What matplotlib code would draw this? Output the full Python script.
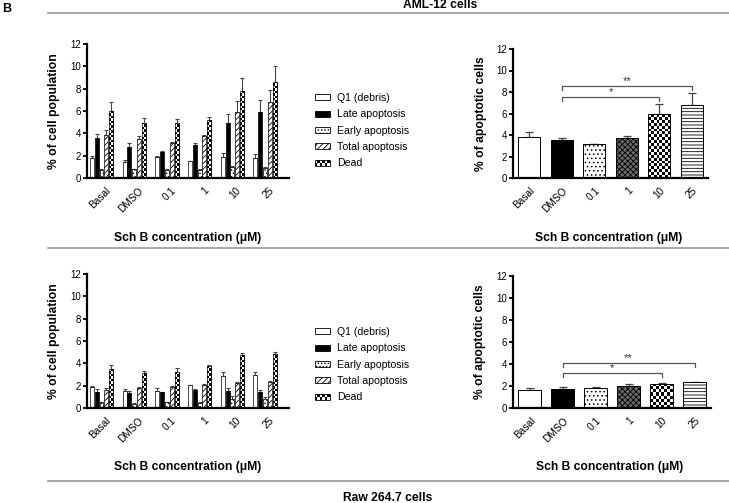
import numpy as np
import matplotlib
matplotlib.use("Agg")
import matplotlib.pyplot as plt
import matplotlib.transforms as mtransforms
from matplotlib.patches import Patch, Rectangle
from matplotlib.lines import Line2D
from matplotlib.legend_handler import HandlerBase

plt.rcParams['font.family'] = ['Liberation Sans', 'DejaVu Sans']
plt.rcParams['hatch.linewidth'] = 0.6

categories = ['Basal', 'DMSO', '0.1', '1', '10', '25']
series = ['Q1 (debris)', 'Late apoptosis', 'Early apoptosis', 'Total apoptosis', 'Dead']

# AML-12 cells: cell population (%) per series across categories, with SEM
aml_q1 = [1.75, 1.45, 1.92, 1.50, 1.90, 1.80]
aml_q1_err = [0.22, 0.14, 0.08, 0.06, 0.30, 0.35]
aml_late = [3.55, 2.75, 2.33, 2.96, 4.97, 5.90]
aml_late_err = [0.43, 0.40, 0.10, 0.18, 0.80, 1.10]
aml_early = [0.69, 0.78, 0.75, 0.75, 0.99, 0.90]
aml_early_err = [0.08, 0.05, 0.09, 0.05, 0.09, 0.07]
aml_total = [3.86, 3.50, 3.14, 3.77, 5.93, 6.82]
aml_total_err = [0.45, 0.22, 0.04, 0.12, 1.00, 1.10]
aml_dead = [5.99, 4.97, 4.97, 5.18, 7.78, 8.62]
aml_dead_err = [0.78, 0.36, 0.27, 0.27, 1.20, 1.38]

# AML-12 cells: % apoptotic cells
aml_apop = [3.85, 3.50, 3.12, 3.75, 5.92, 6.82]
aml_apop_err = [0.45, 0.25, 0.05, 0.15, 1.00, 1.10]

# Raw 264.7 cells
raw_q1 = [1.91, 1.55, 1.55, 2.03, 2.88, 2.95]
raw_q1_err = [0.06, 0.15, 0.24, 0.06, 0.32, 0.30]
raw_late = [1.40, 1.37, 1.40, 1.58, 1.52, 1.45]
raw_late_err = [0.30, 0.12, 0.06, 0.12, 0.25, 0.15]
raw_early = [0.50, 0.40, 0.50, 0.45, 0.85, 0.85]
raw_early_err = [0.05, 0.03, 0.04, 0.05, 0.25, 0.10]
raw_total = [1.61, 1.79, 1.91, 2.06, 2.24, 2.35]
raw_total_err = [0.18, 0.12, 0.06, 0.12, 0.08, 0.05]
raw_dead = [3.49, 3.10, 3.19, 3.75, 4.73, 4.85]
raw_dead_err = [0.36, 0.24, 0.39, 0.10, 0.24, 0.15]

raw_apop = [1.60, 1.75, 1.85, 2.00, 2.20, 2.32]
raw_apop_err = [0.18, 0.15, 0.07, 0.15, 0.05, 0.06]

# significance brackets: (from index, to index, label)
aml_sig = [(1, 4, '*'), (1, 5, '**')]
aml_sig_y = [7.5, 8.55]
raw_sig = [(1, 4, '*'), (1, 5, '**')]
raw_sig_y = [3.15, 4.1]

W, H = 729, 503
fig = plt.figure(figsize=(W / 100, H / 100), dpi=100)


def px_axes(l, r, t, b):
    return fig.add_axes([l / W, 1 - b / H, (r - l) / W, (b - t) / H])


def style_axes(ax, ylabel, xlim, shift_px):
    ax.set_ylim(0, 12)
    ax.set_xlim(*xlim)
    ax.set_yticks(np.arange(0, 13, 2))
    ax.spines['top'].set_visible(False)
    ax.spines['right'].set_visible(False)
    ax.spines['left'].set_linewidth(1.6)
    ax.spines['bottom'].set_linewidth(1.6)
    ax.tick_params(axis='y', length=3, width=1.3, labelsize=7, pad=1.5)
    ax.tick_params(axis='x', length=0, labelsize=7.3, pad=8)
    ax.set_xticks(np.arange(len(categories)))
    ax.set_xticklabels(categories, rotation=45, ha='right', va='center',
                       rotation_mode='anchor')
    off = mtransforms.ScaledTranslation(shift_px / 100, 0, fig.dpi_scale_trans)
    for lab in ax.get_xticklabels():
        lab.set_transform(lab.get_transform() + off)
    ax.set_ylabel(ylabel, fontsize=8.7, fontweight='bold')
    ax.set_xlabel('Sch B concentration (μM)', fontsize=8.7, fontweight='bold')


def checker(ax, bar, cell_px):
    x0, y0 = bar.get_x(), bar.get_y()
    w, h = bar.get_width(), bar.get_height()
    p0 = ax.transData.transform((x0, y0))
    p1 = ax.transData.transform((x0 + w, y0 + h))
    nx = max(2, int(round((p1[0] - p0[0]) / cell_px)))
    ny = max(1, int(round((p1[1] - p0[1]) / cell_px)))
    arr = np.add.outer(np.arange(ny), np.arange(nx)) % 2
    im = ax.imshow(arr, cmap='gray', vmin=0, vmax=1, extent=(x0, x0 + w, y0, y0 + h),
                   origin='lower', interpolation='nearest', aspect='auto', zorder=2.5)
    im.set_clip_path(bar)


class CheckerHandler(HandlerBase):
    def create_artists(self, legend, orig_handle, xdescent, ydescent, width, height,
                       fontsize, trans):
        arts = [Rectangle((-xdescent, -ydescent), width, height, fc='white', ec='black',
                          lw=0.6, transform=trans)]
        nx, ny = 6, 2
        cw, ch = width / nx, height / ny
        for i in range(ny):
            for j in range(nx):
                if (i + j) % 2 == 0:
                    arts.append(Rectangle((-xdescent + j * cw, -ydescent + i * ch), cw, ch,
                                          fc='black', ec='none', transform=trans))
        return arts


series_style = [
    dict(fc='white', hatch=None),
    dict(fc='black', hatch=None),
    dict(fc='white', hatch='.....'),
    dict(fc='white', hatch='//////'),
    dict(fc='white', hatch='checker'),
]

cat_style = [
    dict(fc='white', hatch=None),
    dict(fc='black', hatch=None),
    dict(fc='white', hatch='....'),
    dict(fc='#6a6a6a', hatch='xxxxxx'),
    dict(fc='white', hatch='checker'),
    dict(fc='white', hatch='-----'),
]


def grouped_panel(ax, vals, errs, xlim):
    x = np.arange(len(categories))
    step, width = 0.147, 0.122
    ax.set_xlim(*xlim)
    ax.set_ylim(0, 12)
    for k, (v, e) in enumerate(zip(vals, errs)):
        st = series_style[k]
        pos = x + (k - 2) * step
        hatch = None if st['hatch'] in (None, 'checker') else st['hatch']
        bars = ax.bar(pos, v, width, color=st['fc'], edgecolor='black', linewidth=0.5,
                      hatch=hatch, zorder=2)
        ax.errorbar(pos, v, yerr=[np.zeros(len(v)), e], fmt='none', ecolor='#444444',
                    elinewidth=0.8, capsize=1.3, capthick=0.8, zorder=1.5)
        if st['hatch'] == 'checker':
            for b in bars:
                checker(ax, b, 2.4)
            ax.bar(pos, v, width, fill=False, edgecolor='black', linewidth=0.5, zorder=3)


def single_panel(ax, vals, errs, sig, sig_y, xlim):
    x = np.arange(len(categories))
    ax.set_xlim(*xlim)
    ax.set_ylim(0, 12)
    ax.errorbar(x, vals, yerr=[np.zeros(len(vals)), errs], fmt='none', ecolor='#444444',
                elinewidth=0.9, capsize=3, capthick=0.9, zorder=1.5)
    for i in range(len(categories)):
        st = cat_style[i]
        hatch = None if st['hatch'] in (None, 'checker') else st['hatch']
        bars = ax.bar(x[i], vals[i], 0.68, color=st['fc'], edgecolor='black', linewidth=0.7,
                      hatch=hatch, zorder=2)
        if st['hatch'] == 'checker':
            checker(ax, bars[0], 2.9)
            ax.bar(x[i], vals[i], 0.68, fill=False, edgecolor='black', linewidth=0.7, zorder=3)
    for (a, b, lab), yy in zip(sig, sig_y):
        ax.plot([x[a], x[a], x[b], x[b]], [yy - 0.35, yy, yy, yy - 0.35], color='#555555',
                lw=0.9, zorder=4)
        ax.text((x[a] + x[b]) / 2, yy + 0.02, lab, ha='center', va='bottom', fontsize=8,
                color='#333333')


legend_handles = []
for st in series_style:
    if st['hatch'] == 'checker':
        legend_handles.append(Patch(facecolor='white', edgecolor='black', label='checker'))
    else:
        legend_handles.append(Patch(facecolor=st['fc'], edgecolor='black', linewidth=0.6,
                                    hatch=st['hatch']))


def add_legend(ax, top_px):
    leg = ax.legend(legend_handles, series, loc='upper left',
                    bbox_to_anchor=(315 / W, 1 - top_px / H), bbox_transform=fig.transFigure,
                    frameon=False, fontsize=7.6, handlelength=1.42, handleheight=0.5,
                    labelspacing=0.6, handletextpad=0.65, borderpad=0, borderaxespad=0,
                    handler_map={legend_handles[4]: CheckerHandler()})
    return leg


# Top row: AML-12
ax1 = px_axes(87, 289, 44, 178)
grouped_panel(ax1, [aml_q1, aml_late, aml_early, aml_total, aml_dead],
              [aml_q1_err, aml_late_err, aml_early_err, aml_total_err, aml_dead_err],
              (-0.443, 5.73))
style_axes(ax1, '% of cell population', (-0.443, 5.73), 7)
ax1.xaxis.set_label_coords(0.5, -0.40)
ax1.yaxis.set_label_coords(-0.135, 0.5)
add_legend(ax1, 93)

ax2 = px_axes(513, 708, 49, 178)
single_panel(ax2, aml_apop, aml_apop_err, aml_sig, aml_sig_y, (-0.5, 5.5))
style_axes(ax2, '% of apoptotic cells', (-0.5, 5.5), 4)
ax2.xaxis.set_label_coords(0.49, -0.418)
ax2.yaxis.set_label_coords(-0.135, 0.5)

# Bottom row: Raw 264.7
ax3 = px_axes(87, 289, 274, 408)
grouped_panel(ax3, [raw_q1, raw_late, raw_early, raw_total, raw_dead],
              [raw_q1_err, raw_late_err, raw_early_err, raw_total_err, raw_dead_err],
              (-0.443, 5.73))
style_axes(ax3, '% of cell population', (-0.443, 5.73), 7)
ax3.xaxis.set_label_coords(0.5, -0.396)
ax3.yaxis.set_label_coords(-0.135, 0.5)
add_legend(ax3, 327)

ax4 = px_axes(513, 711, 276, 408)
single_panel(ax4, raw_apop, raw_apop_err, raw_sig, raw_sig_y, (-0.5, 5.5))
style_axes(ax4, '% of apoptotic cells', (-0.5, 5.5), 4)
ax4.xaxis.set_label_coords(0.49, -0.40)
ax4.yaxis.set_label_coords(-0.135, 0.5)

# Section rules and titles
for ypx in (13, 248, 481):
    fig.add_artist(Line2D([48 / W, 1.0], [1 - ypx / H] * 2, transform=fig.transFigure,
                          color='#9a9a9a', lw=1.2))
fig.text(7 / W, 1 - 8.5 / H, 'B', fontsize=9, fontweight='bold', ha='center', va='center')
fig.text(440 / W, 1 - 4.5 / H, 'AML-12 cells', fontsize=8.7, fontweight='bold',
         ha='center', va='center')
fig.text(388 / W, 1 - 498 / H, 'Raw 264.7 cells', fontsize=8.7, fontweight='bold',
         ha='center', va='center')

fig.savefig('out.png', dpi=100)
